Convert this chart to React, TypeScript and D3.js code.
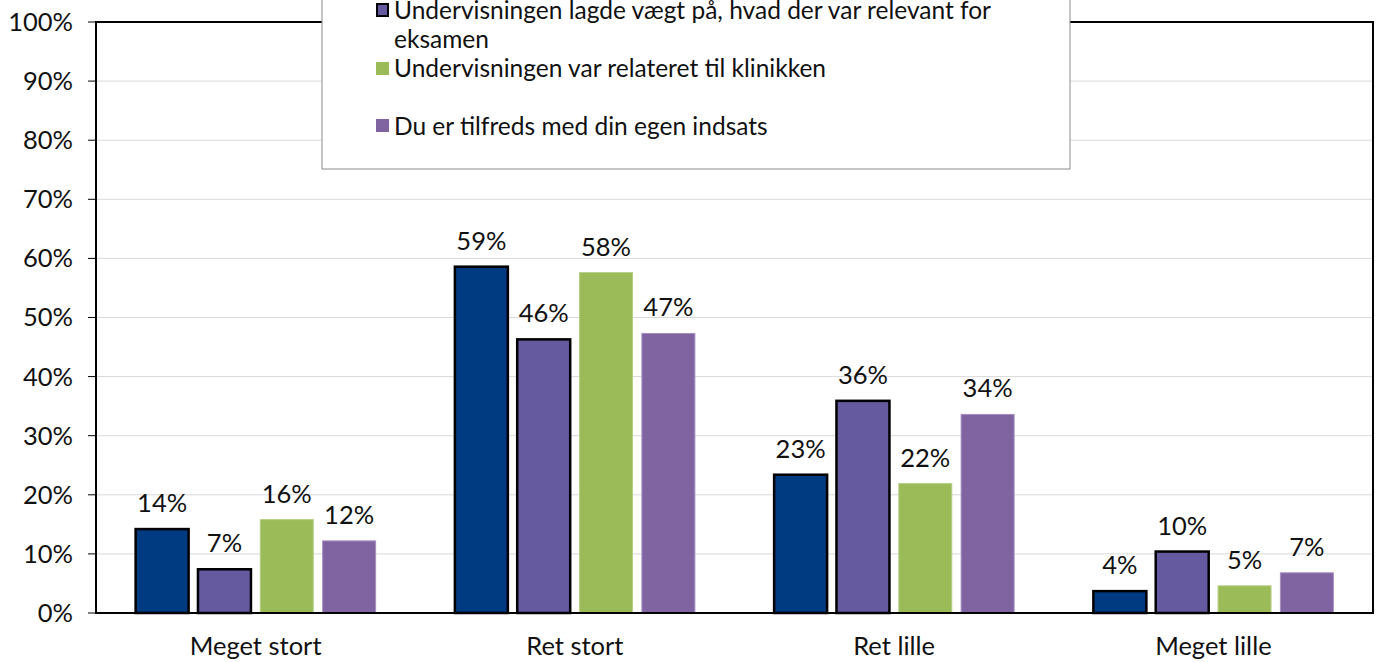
import React, { useEffect } from "react";
import * as d3 from "d3";

const categories = ["Meget stort", "Ret stort", "Ret lille", "Meget lille"];
const seriesNames = [
  "",
  "Undervisningen lagde vægt på, hvad der var relevant for eksamen",
  "Undervisningen var relateret til klinikken",
  "Du er tilfreds med din egen indsats",
];
const seriesColors = ["#003A80", "#655A9F", "#9BBB59", "#8064A2"];
const seriesStroke = ["#000000", "#000000", "#B5CF86", "#A68FC0"];
const seriesStrokeWidth = [2.5, 2.5, 1, 1];
const series0 = [14.2, 58.6, 23.4, 3.7];
const series1 = [7.4, 46.3, 35.9, 10.4];
const series2 = [15.8, 57.6, 21.9, 4.6];
const series3 = [12.2, 47.3, 33.6, 6.8];
const values = [series0, series1, series2, series3];
const yTicks = [0, 10, 20, 30, 40, 50, 60, 70, 80, 90, 100];

const W = 1382;
const H = 662;
const FONT = "Lato, 'DejaVu Sans', sans-serif";
const FS = 25.5;

export default function App() {
  useEffect(() => {
    document.body.style.margin = "0";
  }, []);

  const left = 96;
  const right = 1373;
  const top = 22;
  const bottom = 613;

  const y = d3.scaleLinear().domain([0, 100]).range([bottom, top]);
  const x0 = d3.scaleBand().domain(categories).range([left, right]).paddingInner(0).paddingOuter(0);
  const groupW = 240;
  const x1 = d3
    .scaleBand()
    .domain(d3.range(4).map(String))
    .range([0, groupW])
    .paddingInner(0.15)
    .paddingOuter(0);

  return (
    <svg width={W} height={H} style={{ display: "block", background: "#fff" }} fontFamily={FONT}>
      {/* gridlines */}
      {yTicks.slice(1, -1).map((t) => (
        <line key={t} x1={left} x2={right} y1={y(t)} y2={y(t)} stroke="#D9D9D9" strokeWidth={1} />
      ))}
      {/* ticks and labels */}
      {yTicks.map((t) => (
        <g key={t}>
          <line x1={left - 8} x2={left} y1={y(t)} y2={y(t)} stroke="#000" strokeWidth={1} />
          <text x={73} y={y(t)} dy="0.35em" textAnchor="end" fontSize={FS} fill="#111">
            {t}%
          </text>
        </g>
      ))}
      {/* bars */}
      {categories.map((c, ci) => {
        const gx = (x0(c) as number) + x0.bandwidth() / 2 - groupW / 2;
        return (
          <g key={c}>
            {values.map((vals, si) => {
              const v = vals[ci];
              const bx = gx + (x1(String(si)) as number);
              const bw = x1.bandwidth();
              return (
                <g key={si}>
                  <rect
                    x={bx}
                    y={y(v)}
                    width={bw}
                    height={y(0) - y(v)}
                    fill={seriesColors[si]}
                    stroke={seriesStroke[si]}
                    strokeWidth={seriesStrokeWidth[si]}
                  />
                  <text x={bx + bw / 2} y={y(v) - 17} textAnchor="middle" fontSize={FS} fill="#111">
                    {Math.round(v)}%
                  </text>
                </g>
              );
            })}
            <text
              x={(x0(c) as number) + x0.bandwidth() / 2}
              y={655}
              textAnchor="middle"
              fontSize={FS}
              fill="#111"
            >
              {c}
            </text>
          </g>
        );
      })}
      {/* plot border */}
      <rect x={left} y={top} width={right - left} height={bottom - top} fill="none" stroke="#000" strokeWidth={2} />
      {/* legend */}
      <rect x={322} y={-40} width={748} height={209} fill="#fff" stroke="#8C8C8C" strokeWidth={1} />
      <g fontSize={24.5} fill="#111">
        <rect x={377} y={4} width={11} height={12} fill={seriesColors[1]} stroke="#000" strokeWidth={2} />
        <text x={394} y={19}>Undervisningen lagde vægt på, hvad der var relevant for</text>
        <text x={394} y={48}>eksamen</text>
        <rect x={376} y={62} width={13} height={13} fill={seriesColors[2]} />
        <text x={394} y={77}>{seriesNames[2]}</text>
        <rect x={376} y={119} width={13} height={13} fill={seriesColors[3]} />
        <text x={394} y={135}>{seriesNames[3]}</text>
      </g>
    </svg>
  );
}
